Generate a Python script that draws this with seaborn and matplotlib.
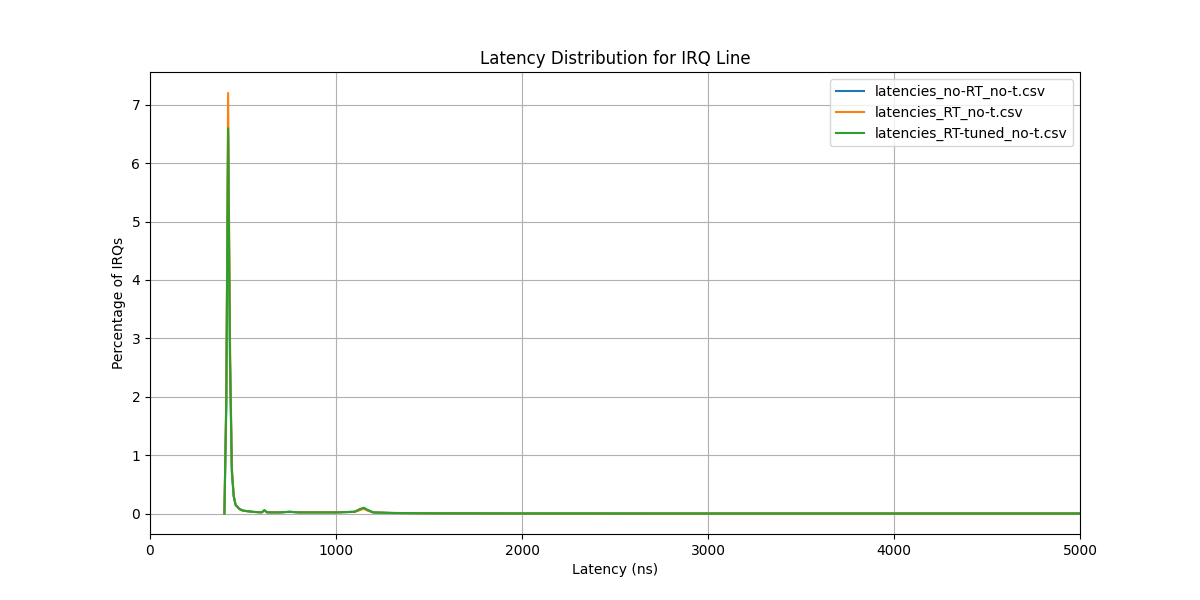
import matplotlib
matplotlib.use("Agg")
import matplotlib.pyplot as plt
import seaborn as sns
import pandas as pd

latency_ns = [400, 410, 420, 430, 440, 450, 460, 480, 500, 550, 600, 615, 630, 700, 750, 800, 900,
              1000, 1100, 1130, 1150, 1170, 1200, 1300, 1500, 2000, 3000, 4000, 5000]
no_rt = [0, 1.8, 6.5, 2.6, 0.7, 0.3, 0.15, 0.08, 0.05, 0.03, 0.02, 0.05, 0.02, 0.02, 0.03, 0.02, 0.02,
         0.02, 0.03, 0.07, 0.09, 0.06, 0.02, 0.01, 0.005, 0.002, 0.001, 0.001, 0.001]
rt = [0, 2.0, 7.2, 3.0, 0.8, 0.3, 0.15, 0.08, 0.05, 0.03, 0.02, 0.05, 0.02, 0.02, 0.03, 0.02, 0.02,
      0.02, 0.03, 0.06, 0.08, 0.05, 0.02, 0.01, 0.005, 0.002, 0.001, 0.001, 0.001]
rt_tuned = [0, 1.9, 6.6, 2.7, 0.75, 0.3, 0.15, 0.08, 0.05, 0.03, 0.02, 0.06, 0.02, 0.02, 0.03, 0.02, 0.02,
            0.02, 0.03, 0.08, 0.1, 0.06, 0.02, 0.01, 0.005, 0.002, 0.001, 0.001, 0.001]
names = ["latencies_no-RT_no-t.csv", "latencies_RT_no-t.csv", "latencies_RT-tuned_no-t.csv"]

frames = []
for name, vals in zip(names, [no_rt, rt, rt_tuned]):
    frames.append(pd.DataFrame({"Latency": latency_ns, "Pct": vals, "File": name}))
df = pd.concat(frames)

fig, ax = plt.subplots(figsize=(12, 6), dpi=100)
sns.lineplot(data=df, x="Latency", y="Pct", hue="File", palette=["#1f77b4", "#ff7f0e", "#2ca02c"],
             linewidth=1.5, ax=ax)
ax.set_xlim(0, 5000)
ax.set_ylim(-0.35, 7.56)
ax.grid(True)
ax.set_title("Latency Distribution for IRQ Line")
ax.set_xlabel("Latency (ns)")
ax.set_ylabel("Percentage of IRQs")
ax.legend(title=None, loc="upper right")
plt.savefig("out.png", dpi=100)
